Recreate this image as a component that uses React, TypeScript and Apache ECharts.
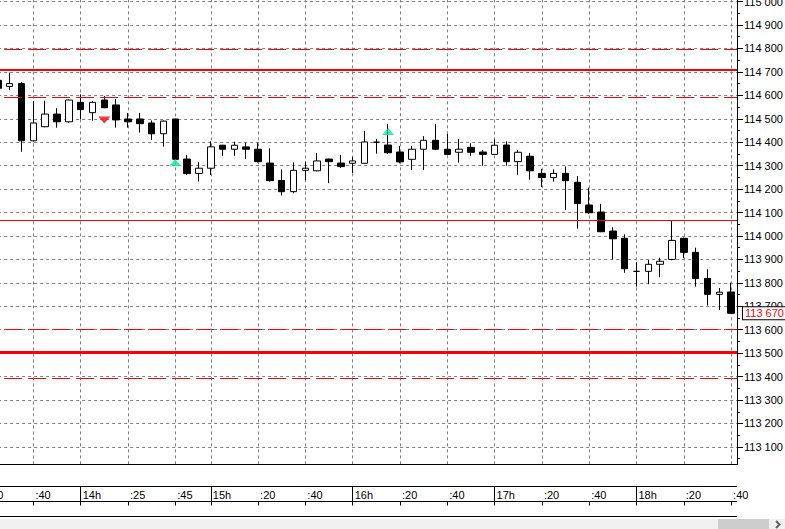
import React, { useEffect, useRef } from 'react';
import * as echarts from 'echarts';

// 5-minute bars (first entry has no visible candle)
const times = [
  '13:20', '13:25', '13:30', '13:35', '13:40', '13:45', '13:50', '13:55', '14:00',
  '14:10', '14:15', '14:20', '14:25', '14:30', '14:35', '14:40', '14:45', '14:50', '14:55',
  '15:00', '15:05', '15:10', '15:15', '15:20', '15:25', '15:30', '15:35', '15:40', '15:45', '15:50', '15:55',
  '16:00', '16:05', '16:10', '16:15', '16:20', '16:25', '16:30', '16:35', '16:40', '16:45', '16:50', '16:55',
  '17:00', '17:05', '17:10', '17:15', '17:20', '17:25', '17:30', '17:35', '17:40', '17:45', '17:50', '17:55',
  '18:00', '18:05', '18:10', '18:15', '18:20', '18:25', '18:30', '18:35', '18:40',
];

// OHLC for bars times[1] .. times[63]
const open = [
  114664, 114638, 114650, 114406, 114466, 114520, 114487, 114570, 114526, 114580,
  114559, 114499, 114499, 114482, 114436, 114499, 114328, 114267, 114289, 114387,
  114370, 114380, 114370, 114311, 114237, 114189, 114280, 114278, 114328, 114311,
  114310, 114310, 114400, 114388, 114358, 114327, 114370, 114408, 114370, 114357,
  114378, 114358, 114348, 114388, 114317, 114340, 114267, 114249, 114267, 114229,
  114132, 114102, 114021, 113990, 113849, 113849, 113879, 113900, 113990, 113930,
  113819, 113751, 113761,
];
const close = [
  114630, 114650, 114406, 114482, 114520, 114487, 114580, 114539, 114570, 114547,
  114495, 114487, 114479, 114436, 114490, 114327, 114266, 114289, 114380, 114370,
  114387, 114370, 114317, 114236, 114189, 114280, 114289, 114320, 114317, 114296,
  114320, 114401, 114400, 114355, 114316, 114370, 114408, 114370, 114348, 114370,
  114357, 114348, 114387, 114317, 114357, 114278, 114249, 114267, 114236, 114138,
  114099, 114018, 113988, 113860, 113849, 113879, 113892, 113981, 113930, 113818,
  113751, 113760, 113670,
];
const low = [
  114626, 114623, 114359, 114403, 114464, 114462, 114483, 114498, 114492, 114545,
  114462, 114462, 114441, 114409, 114381, 114325, 114260, 114232, 114260, 114342,
  114342, 114328, 114313, 114232, 114172, 114182, 114239, 114276, 114225, 114290,
  114269, 114308, 114351, 114351, 114310, 114281, 114281, 114368, 114347, 114313,
  114342, 114300, 114346, 114300, 114261, 114240, 114209, 114232, 114111, 114031,
  114094, 114016, 113900, 113843, 113784, 113794, 113824, 113896, 113905, 113784,
  113703, 113684, 113668,
];
const high = [
  114668, 114697, 114657, 114576, 114577, 114545, 114582, 114604, 114576, 114597,
  114584, 114525, 114525, 114493, 114493, 114500, 114345, 114314, 114404, 114389,
  114402, 114398, 114398, 114374, 114284, 114314, 114317, 114354, 114330, 114345,
  114337, 114448, 114414, 114478, 114384, 114384, 114426, 114478, 114435, 114414,
  114395, 114367, 114412, 114404, 114367, 114354, 114286, 114284, 114296, 114256,
  114206, 114137, 114037, 114007, 113888, 113897, 113907, 114067, 113993, 113950,
  113858, 113778, 113801,
];

const labelTimes = [
  '13:20', '13:40', '14:00', '14:25', '14:45', '15:00', '15:20', '15:40', '16:00',
  '16:20', '16:40', '17:00', '17:20', '17:40', '18:00', '18:20', '18:40',
];

const arrowTimes = ['14:15', '14:45', '16:15'];
const arrowPrices = [114495, 114313, 114446];
const arrowDirs = ['down', 'up', 'up'];

const levelPrices = [114795, 114707, 114591, 114068, 113602, 113504, 113394];
const levelKinds = ['dash', 'thick', 'dash', 'thin', 'dash', 'heavy', 'dash'];

const lastPrice = 113670;

const FONT = '"Liberation Sans", Arial, sans-serif';

const fmtPrice = (v: number) => `${Math.floor(v / 1000)} ${String(Math.round(v) % 1000).padStart(3, '0')}`;
const fmtTime = (t: string) => {
  const [hh, mm] = t.split(':');
  return mm === '00' ? `${Number(hh)}h` : `:${mm}`;
};
const isHour = (t: string) => labelTimes.includes(t) && t.endsWith(':00');

const levelStyle = (kind: string) => {
  if (kind === 'dash') return { color: '#ff0000', width: 1, type: [18, 6] };
  if (kind === 'thick') return { color: '#ff0000', width: 2, type: 'solid' };
  if (kind === 'heavy') return { color: '#ff0000', width: 3, type: 'solid' };
  return { color: '#ff0000', width: 1, type: 'solid' };
};

export default function App() {
  const ref = useRef<HTMLDivElement>(null);
  useEffect(() => {
    const chart = echarts.init(ref.current!, null, { renderer: 'svg' });

    const candleData = open.map((o, i) => [times[i + 1], o, close[i], low[i], high[i]]);
    const arrowData = arrowTimes.map((t, i) => ({
      value: [t, arrowPrices[i]],
      symbolRotate: arrowDirs[i] === 'down' ? 180 : 0,
      itemStyle: { color: arrowDirs[i] === 'down' ? '#ff0000' : '#00e88c' },
    }));

    const option: any = {
      animation: false,
      textStyle: { fontFamily: FONT },
      grid: [
        { left: -19.825, right: 48, top: -21.88, bottom: 58.64, outerBoundsMode: 'none', containLabel: false },
        { left: -13.912, right: 53.913, top: 486.5, height: 15, outerBoundsMode: 'none', containLabel: false },
      ],
      xAxis: [
        {
          gridIndex: 0, type: 'category', data: times, boundaryGap: true,
          axisLine: { show: false }, axisTick: { show: false }, axisLabel: { show: false }, splitLine: { show: false },
        },
        {
          gridIndex: 1, type: 'category', data: times, boundaryGap: false, position: 'top',
          axisLine: { show: false },
          axisTick: {
            show: true, inside: true, length: 4,
            interval: (_i: number, v: string) => labelTimes.includes(v),
            lineStyle: { color: '#000', width: 1 },
          },
          axisLabel: {
            show: true, inside: true, margin: 3, align: 'left', padding: [0, 0, 0, 2],
            interval: (_i: number, v: string) => labelTimes.includes(v),
            formatter: (v: string) => fmtTime(v),
            color: '#000', fontSize: 11, fontFamily: FONT,
          },
          splitLine: {
            show: true,
            interval: (_i: number, v: string) => isHour(v),
            lineStyle: { color: '#000', width: 1, type: 'solid' },
          },
        },
      ],
      yAxis: [
        {
          gridIndex: 0, type: 'value', position: 'right', min: 113000, max: 115100, interval: 100,
          axisLine: { show: true, onZero: false, lineStyle: { color: '#000', width: 1 } },
          axisTick: { show: true, length: 6, lineStyle: { color: '#000' } },
          minorTick: { show: true, splitNumber: 2, length: 3, lineStyle: { color: '#000' } },
          axisLabel: {
            show: true, margin: 7, color: '#000', fontSize: 11, fontFamily: FONT,
            showMinLabel: false, formatter: (v: number) => fmtPrice(v),
          },
          splitLine: { show: true, lineStyle: { color: '#808080', width: 1, type: [3, 3] } },
        },
        { gridIndex: 1, type: 'value', show: false },
      ],
      series: [
        {
          type: 'candlestick',
          xAxisIndex: 0, yAxisIndex: 0,
          encode: { x: 0, y: [1, 2, 3, 4] },
          data: candleData,
          barWidth: 7,
          z: 2,
          itemStyle: {
            color: '#ffffff', color0: '#000000',
            borderColor: '#000000', borderColor0: '#000000', borderColorDoji: '#000000',
            borderWidth: 1,
          },
          markLine: {
            silent: true, z: 5, symbol: ['none', 'none'], animation: false,
            label: { show: false },
            emphasis: { disabled: true },
            data: [
              ...levelPrices.map((p, i) => ({ yAxis: p, lineStyle: levelStyle(levelKinds[i]) })),
              {
                yAxis: lastPrice,
                lineStyle: { width: 0, color: 'rgba(0,0,0,0)' },
                label: {
                  show: true, position: 'end', distance: 6,
                  formatter: fmtPrice(lastPrice),
                  color: '#ff0000', fontSize: 11, fontFamily: FONT,
                  backgroundColor: '#ffffff', borderColor: '#000000', borderWidth: 1,
                  padding: [1, 2, 0, 2],
                },
              },
            ],
          },
        },
        {
          type: 'scatter',
          xAxisIndex: 0, yAxisIndex: 0,
          symbol: 'triangle',
          symbolSize: [12, 7],
          data: arrowData,
          z: 3,
          markLine: {
            silent: true, z: 1, symbol: ['none', 'none'], animation: false,
            label: { show: false },
            emphasis: { disabled: true },
            lineStyle: { color: '#808080', width: 1, type: [3, 3] },
            data: labelTimes.map((t) => ({ xAxis: t })),
          },
        },
      ],
      graphic: [
        { type: 'rect', z: 100, silent: true, shape: { x: 0, y: 465, width: 785, height: 9 }, style: { fill: '#ffffff' } },
        { type: 'line', z: 101, silent: true, shape: { x1: 0, y1: 464.5, x2: 737, y2: 464.5 }, style: { stroke: '#000', lineWidth: 1 } },
        { type: 'line', z: 101, silent: true, shape: { x1: 0, y1: 486.5, x2: 737, y2: 486.5 }, style: { stroke: '#000', lineWidth: 1 } },
        { type: 'line', z: 101, silent: true, shape: { x1: 0, y1: 501.5, x2: 737, y2: 501.5 }, style: { stroke: '#000', lineWidth: 1 } },
        { type: 'line', z: 101, silent: true, shape: { x1: 0, y1: 516.5, x2: 737, y2: 516.5 }, style: { stroke: '#000', lineWidth: 1 } },
        { type: 'rect', z: 100, silent: true, shape: { x: 0, y: 519, width: 785, height: 10 }, style: { fill: '#f0f0f0' } },
        { type: 'rect', z: 101, silent: true, shape: { x: 718, y: 519, width: 51, height: 10 }, style: { fill: '#cdcdcd' } },
        {
          type: 'polyline', z: 102, silent: true,
          shape: { points: [[776, 521], [779.5, 524.5], [776, 528]] },
          style: { stroke: '#606060', lineWidth: 2, fill: 'none' },
        },
      ],
    };

    chart.setOption(option);
    return () => chart.dispose();
  }, []);

  return (
    <div
      ref={ref}
      style={{ position: 'fixed', left: 0, top: 0, width: 785, height: 529, background: '#ffffff' }}
    />
  );
}
